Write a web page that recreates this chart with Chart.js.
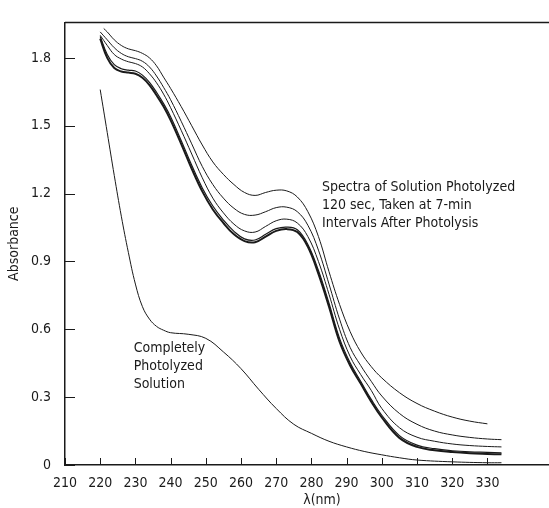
<!DOCTYPE html>
<html>
<head>
<meta charset="utf-8">
<script src="https://cdn.jsdelivr.net/npm/chart.js@4.4.0/dist/chart.umd.min.js"></script>
<style>
html, body { margin: 0; padding: 0; background: #fff; }
#wrap { width: 549px; height: 508px; position: relative; }
</style>
</head>
<body>
<div id="wrap"><canvas id="spectraChart"></canvas></div>
<script>
// wavelengths (nm)
const firstWavelengths = [221, 222, 224, 226, 228, 230, 232, 234, 236, 238, 240,
    243, 246, 249, 252, 255, 258, 261, 264, 267, 270, 273, 276, 279, 282, 285, 288, 291, 294, 297, 300,
    305, 310, 315, 320, 325, 330];
const wavelengths = [220, 222, 224, 226, 228, 230, 232, 234, 236, 238, 240,
    243, 246, 249, 252, 255, 258, 261, 264, 267, 270, 273, 276, 279, 282, 285, 288, 291, 294, 297, 300,
    305, 310, 315, 320, 325, 330, 334];
const photolyzedWavelengths = [220, 222, 224, 226, 228, 230, 232, 234, 236, 238, 240,
    245, 250, 255, 260, 265, 270, 275, 280, 285, 290, 295, 300, 305, 310, 320, 330, 334];

// absorbance, spectra taken at 7-min intervals (top to bottom)
const spectrum1 = [1.93, 1.915, 1.88, 1.855, 1.84, 1.832, 1.82, 1.80, 1.765, 1.715, 1.665,
    1.585, 1.50, 1.415, 1.34, 1.285, 1.24, 1.205, 1.192, 1.205, 1.215, 1.212, 1.185, 1.12, 1.01, 0.855, 0.71, 0.59, 0.50, 0.435, 0.385,
    0.32, 0.272, 0.238, 0.212, 0.194, 0.182];
const spectrum2 = [1.915, 1.88, 1.845, 1.82, 1.805, 1.797, 1.785, 1.76, 1.72, 1.67, 1.615,
    1.52, 1.42, 1.32, 1.24, 1.18, 1.135, 1.108, 1.105, 1.12, 1.138, 1.14, 1.12, 1.06, 0.95, 0.80, 0.645, 0.52, 0.44, 0.37, 0.305,
    0.228, 0.18, 0.15, 0.133, 0.122, 0.115, 0.112];
const spectrum3 = [1.90, 1.855, 1.815, 1.795, 1.783, 1.775, 1.76, 1.73, 1.69, 1.64, 1.58,
    1.48, 1.375, 1.27, 1.18, 1.115, 1.065, 1.035, 1.03, 1.055, 1.08, 1.087, 1.07, 1.01, 0.90, 0.755, 0.60, 0.48, 0.40, 0.33, 0.25,
    0.165, 0.123, 0.105, 0.093, 0.086, 0.082, 0.08];
const spectrum4 = [1.895, 1.815, 1.77, 1.752, 1.746, 1.742, 1.724, 1.692, 1.648, 1.598, 1.54,
    1.435, 1.325, 1.225, 1.145, 1.083, 1.033, 1.0, 0.995, 1.02, 1.045, 1.052, 1.04, 0.975, 0.86, 0.715, 0.56, 0.452, 0.37, 0.29, 0.22,
    0.13, 0.088, 0.072, 0.063, 0.058, 0.056, 0.054];
const spectrum5 = [1.885, 1.80, 1.755, 1.74, 1.735, 1.73, 1.712, 1.68, 1.635, 1.585, 1.525,
    1.42, 1.31, 1.21, 1.13, 1.07, 1.02, 0.99, 0.985, 1.01, 1.035, 1.043, 1.03, 0.965, 0.845, 0.70, 0.545, 0.44, 0.36, 0.28, 0.21,
    0.12, 0.08, 0.065, 0.057, 0.052, 0.049, 0.047];
const photolyzed = [1.66, 1.47, 1.28, 1.10, 0.94, 0.80, 0.70, 0.645, 0.613, 0.596, 0.585,
    0.578, 0.56, 0.50, 0.426, 0.335, 0.25, 0.18, 0.14, 0.105, 0.08, 0.06, 0.045, 0.032, 0.022, 0.014, 0.01, 0.01];

const xTicks = [210, 220, 230, 240, 250, 260, 270, 280, 290, 300, 310, 320, 330];
const yTicks = [0, 0.3, 0.6, 0.9, 1.2, 1.5, 1.8];
const yTickLabels = ['0', '0.3', '0.6', '0.9', '1.2', '1.5', '1.8'];

const spectraNote = ['Spectra of Solution Photolyzed', '120 sec, Taken at 7-min', 'Intervals After Photolysis'];
const photolyzedNote = ['Completely', 'Photolyzed', 'Solution'];

const font = "'Liberation Sans Narrow', 'DejaVu Sans Condensed', 'Roboto', sans-serif";
const ink = '#1a1a1a';

function points(xs, ys) {
    return xs.map((x, i) => ({ x: x, y: ys[i] }));
}

function curve(label, xs, ys, width) {
    return {
        label: label,
        data: points(xs, ys),
        borderColor: ink,
        borderWidth: width,
        pointRadius: 0,
        fill: false,
        tension: 0.4
    };
}

const annotations = {
    id: 'annotations',
    afterDraw(chart) {
        const ctx = chart.ctx;
        const area = chart.chartArea;
        const x = chart.scales.x;
        const y = chart.scales.y;
        ctx.save();
        ctx.strokeStyle = ink;
        ctx.lineWidth = 1.5;
        // top frame line
        ctx.beginPath();
        ctx.moveTo(area.left, area.top);
        ctx.lineTo(area.right, area.top);
        ctx.stroke();
        // inward tick marks
        ctx.lineWidth = 1;
        yTicks.forEach(v => {
            const py = Math.round(y.getPixelForValue(v)) + 0.5;
            ctx.beginPath();
            ctx.moveTo(area.left, py);
            ctx.lineTo(area.left + 10, py);
            ctx.stroke();
        });
        xTicks.forEach(v => {
            const px = Math.round(x.getPixelForValue(v)) + 0.5;
            ctx.beginPath();
            ctx.moveTo(px, area.bottom);
            ctx.lineTo(px, area.bottom - 7);
            ctx.stroke();
        });
        // notes
        ctx.fillStyle = ink;
        ctx.font = '14px ' + font;
        ctx.textAlign = 'left';
        ctx.textBaseline = 'alphabetic';
        spectraNote.forEach((line, i) => {
            ctx.fillText(line, x.getPixelForValue(283), y.getPixelForValue(1.2) - 3 + i * 18);
        });
        photolyzedNote.forEach((line, i) => {
            ctx.fillText(line, x.getPixelForValue(229.5), y.getPixelForValue(0.5) + i * 18);
        });
        // x axis title
        ctx.textAlign = 'center';
        ctx.fillText('\u03bb(nm)', x.getPixelForValue(283), area.bottom + 39);
        ctx.restore();
    }
};

new Chart(document.getElementById('spectraChart'), {
    type: 'line',
    data: {
        datasets: [
            curve('Spectrum 1', firstWavelengths, spectrum1, 1),
            curve('Spectrum 2', wavelengths, spectrum2, 1),
            curve('Spectrum 3', wavelengths, spectrum3, 1),
            curve('Spectrum 4', wavelengths, spectrum4, 1.2),
            curve('Spectrum 5', wavelengths, spectrum5, 2),
            curve('Completely Photolyzed Solution', photolyzedWavelengths, photolyzed, 1)
        ]
    },
    options: {
        responsive: true,
        maintainAspectRatio: false,
        animation: false,
        layout: { padding: { top: 15, right: 0, left: 0, bottom: 0 } },
        plugins: {
            legend: { display: false },
            tooltip: { enabled: false }
        },
        scales: {
            x: {
                type: 'linear',
                min: 210,
                max: 347.5,
                afterFit(s) { s.height = 43; },
                afterBuildTicks(s) { s.ticks = xTicks.map(v => ({ value: v })); },
                grid: { display: false, drawTicks: false },
                border: { display: true, color: ink, width: 1.5 },
                ticks: {
                    color: ink,
                    padding: 10,
                    maxRotation: 0,
                    autoSkip: false,
                    font: { family: font, size: 14 }
                }
            },
            y: {
                min: 0,
                max: 1.957,
                afterFit(s) { s.width = 65; },
                afterBuildTicks(s) { s.ticks = yTicks.map(v => ({ value: v })); },
                grid: { display: false, drawTicks: false },
                border: { display: true, color: ink, width: 1.5 },
                title: {
                    display: true,
                    text: 'Absorbance',
                    color: ink,
                    padding: { top: 6, bottom: 0 },
                    font: { family: font, size: 14 }
                },
                ticks: {
                    color: ink,
                    padding: 14,
                    autoSkip: false,
                    font: { family: font, size: 14 },
                    callback: (v) => yTickLabels[yTicks.indexOf(v)]
                }
            }
        }
    },
    plugins: [annotations]
});
</script>
</body>
</html>
